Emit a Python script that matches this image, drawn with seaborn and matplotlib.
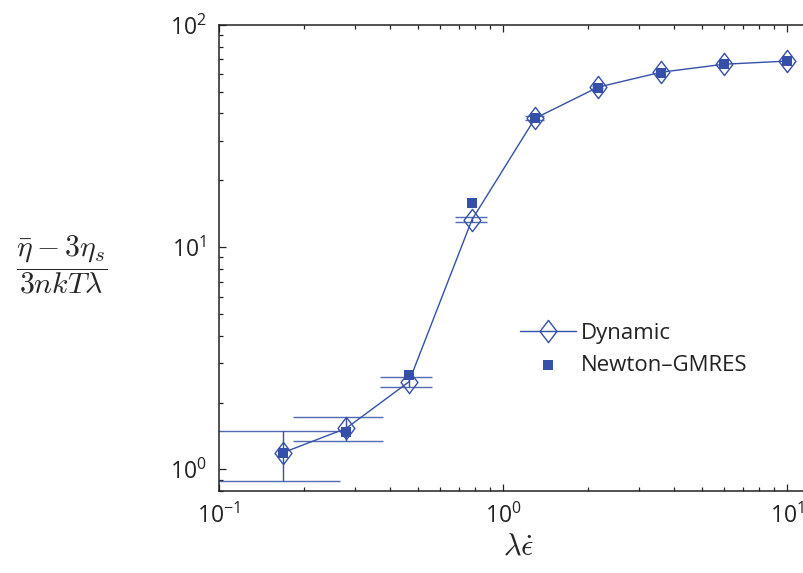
import matplotlib
matplotlib.use("Agg")
import matplotlib.pyplot as plt
import seaborn as sns
import pandas as pd
from matplotlib.path import Path

# ---- data ----
strain_rate = [0.168, 0.28, 0.4666, 0.7776, 1.296, 2.16, 3.6, 6.0, 10.0]
dynamic = [1.19, 1.53, 2.48, 13.3, 38.0, 52.5, 61.3, 66.6, 68.8]
dynamic_err = [0.30, 0.19, 0.14, 0.32, 0.8, 0.6, 0.6, 0.6, 0.6]
newton_gmres = [1.19, 1.48, 2.65, 15.8, 38.0, 52.0, 60.8, 66.6, 68.8]
series_labels = ["Dynamic", "Newton\u2013GMRES"]

# ---- style ----
COLOR = "#3550a8"
CAP_HALF = 0.098  # cap half width in x data units (MATLAB-style tees)

sns.set_theme(style="ticks")
plt.rcParams["font.family"] = ["Open Sans", "DejaVu Sans"]
plt.rcParams["mathtext.fontset"] = "custom"
plt.rcParams["mathtext.rm"] = "Open Sans"
plt.rcParams["mathtext.it"] = "Open Sans:italic"

df = pd.DataFrame({"x": strain_rate, "dyn": dynamic, "err": dynamic_err,
                   "ng": newton_gmres})

fig = plt.figure(figsize=(8.04, 5.73), dpi=100)
ax = fig.add_axes([219 / 804, 82 / 573, 600 / 804, 466 / 573])
ax.set_xscale("log")
ax.set_yscale("log")

# error bars (vertical) and MATLAB-like caps in data units
ax.vlines(df["x"], df["dyn"] - df["err"], df["dyn"] + df["err"],
          color=COLOR, lw=1.0, zorder=2)
for sign in (-1, 1):
    ax.hlines(df["dyn"] + sign * df["err"], df["x"] - CAP_HALF, df["x"] + CAP_HALF,
              color=COLOR, lw=1.0, alpha=0.85, zorder=2)

diamond = Path([(0, 1), (0.76, 0), (0, -1), (-0.76, 0), (0, 1)],
               [Path.MOVETO, Path.LINETO, Path.LINETO, Path.LINETO, Path.CLOSEPOLY])

sns.lineplot(data=df, x="x", y="dyn", ax=ax, sort=False, errorbar=None,
             color=COLOR, lw=1.0, marker=diamond, markersize=16,
             markerfacecolor="none", markeredgecolor=COLOR, markeredgewidth=1.0,
             label=series_labels[0], zorder=3)
sns.scatterplot(data=df, x="x", y="ng", ax=ax, marker="s", s=52,
                color=COLOR, edgecolor=COLOR, linewidth=0,
                label=series_labels[1], zorder=4)

# x range extends past the right edge of the figure, as in the reference
ax.set_xlim(0.1, 10 ** (1 + 600 / 284 - 2))
ax.set_ylim(0.8, 100)

ax.tick_params(which="both", direction="in", top=True, right=False,
               colors="#222222", labelsize=16.5, width=0.9)
ax.tick_params(which="major", length=5, pad=9)
ax.tick_params(which="minor", length=3)
for s in ax.spines.values():
    s.set_linewidth(1.1)
    s.set_color("#222222")
ax.spines["right"].set_visible(False)

ax.set_xlabel(r"$\lambda\dot{\epsilon}$", fontsize=22, math_fontfamily="cm",
              labelpad=2)
ax.set_ylabel(r"$\dfrac{\bar{\eta}-3\eta_s}{3nkT\lambda}$", fontsize=21.5,
              math_fontfamily="cm", rotation=0, ha="center", va="center")
ax.yaxis.set_label_coords(-0.262, 0.485)

leg = ax.legend(loc="center left", bbox_to_anchor=(0.487, 0.304), frameon=False,
                fontsize=16, handlelength=2.5, handletextpad=0.25,
                labelspacing=0.5, borderaxespad=0)
for t in leg.get_texts():
    t.set_color("#222222")

fig.savefig("out.png", dpi=100)
